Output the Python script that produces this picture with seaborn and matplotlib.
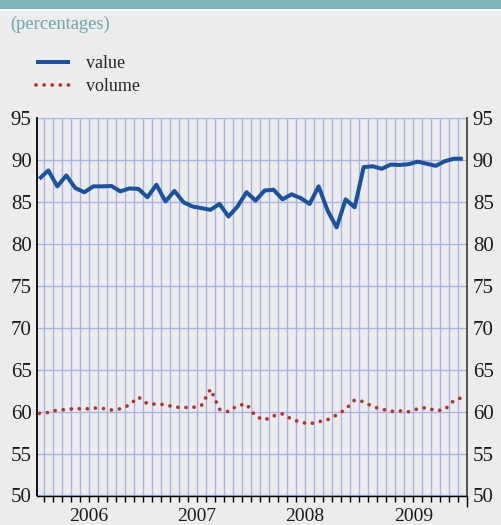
import numpy as np
import pandas as pd
import matplotlib
matplotlib.use("Agg")
import matplotlib.pyplot as plt
import matplotlib.transforms as mtransforms
from matplotlib.patches import Rectangle
import seaborn as sns

# ---- data (monthly, Jan 2006 - Dec 2009) ----
years = ["2006", "2007", "2008", "2009"]
value = [87.8, 88.8, 86.9, 88.2, 86.7, 86.2, 86.9, 86.9, 86.95, 86.3, 86.65, 86.6,
         85.6, 87.1, 85.1, 86.35, 85.0, 84.5, 84.3, 84.1, 84.8, 83.3, 84.5, 86.2,
         85.2, 86.4, 86.5, 85.35, 85.95, 85.5, 84.8, 86.9, 84.0, 82.0, 85.35, 84.4,
         89.2, 89.3, 89.0, 89.5, 89.45, 89.55, 89.85, 89.6, 89.35, 89.9, 90.2, 90.2]
volume = [59.8, 59.9, 60.2, 60.25, 60.4, 60.3, 60.45, 60.4, 60.2, 60.35, 60.8, 61.75,
          60.95, 60.9, 60.85, 60.55, 60.5, 60.5, 60.75, 62.7, 60.3, 60.0, 60.75, 60.9,
          59.45, 59.0, 59.5, 59.75, 59.1, 58.75, 58.55, 58.8, 59.05, 59.6, 60.3, 61.4,
          61.2, 60.6, 60.3, 60.05, 60.1, 60.0, 60.35, 60.5, 60.1, 60.25, 61.33, 61.73]
y_ticks = [50, 55, 60, 65, 70, 75, 80, 85, 90, 95]

month = np.arange(len(value))
df = pd.DataFrame({"month": month, "value": value, "volume": volume})

sns.set_style("white")
plt.rcParams["font.family"] = ["Liberation Serif", "DejaVu Serif"]

BG = "#ececec"
GRID = "#a9b4e4"
BLUE = "#1a52a0"
RED = "#b5332e"
TEAL = "#7fb6ba"

fig = plt.figure(figsize=(5.01, 5.25), dpi=100, facecolor=BG)
W, H = 501, 525
fig.patches.append(Rectangle((0, 1 - 8.5 / H), 1, 8.5 / H, transform=fig.transFigure,
                             facecolor=TEAL, edgecolor="none", zorder=0))
fig.patches.append(Rectangle((0, 1 - 11 / H), 1, 2.5 / H, transform=fig.transFigure,
                             facecolor="white", edgecolor="none", zorder=0))
fig.text(10 / W, 1 - 29 / H, "(percentages)", color="#6aa8ad", fontsize=13.3,
         va="baseline", ha="left")

ax = fig.add_axes([37.3 / W, 1 - 495.5 / H, 430 / W, 377 / H])
ax.set_facecolor(BG)

sns.lineplot(data=df, x="month", y="value", ax=ax, color=BLUE, lw=2.9,
             label="value", solid_joinstyle="round", solid_capstyle="butt", zorder=4)
sns.lineplot(data=df, x="month", y="volume", ax=ax, color=RED, lw=2.7,
             label="volume", linestyle=(0, (0.01, 2.15)), dash_capstyle="round", zorder=4)

ax.set_xlim(-0.22, 47.5)
ax.set_ylim(50, 95)
ax.set_xlabel("")
ax.set_ylabel("")

ax.set_xticks(np.arange(0.5, 47.0, 1.0))
ax.set_xticks([11.5, 23.5, 35.5, 47.5], minor=True)
ax.tick_params(axis="x", which="major", direction="out", length=4, width=1,
               color="black", labelbottom=False, bottom=True)
ax.tick_params(axis="x", which="minor", direction="out", length=8, width=1,
               color="black", labelbottom=False, bottom=True)
ax.set_yticks(y_ticks)
ax.tick_params(axis="y", which="major", length=0, labelsize=15, pad=4,
               labelleft=True, labelright=True, colors="#1a1a1a")

ax.grid(True, which="major", axis="both", color=GRID, lw=1.0)
ax.set_axisbelow(True)

ax.spines["top"].set_visible(False)
ax.spines["left"].set_color("black")
ax.spines["left"].set_linewidth(1.3)
ax.spines["right"].set_color("#444444")
ax.spines["right"].set_linewidth(1.3)
ax.spines["bottom"].set_color("black")
ax.spines["bottom"].set_linewidth(1.0)

trans = mtransforms.blended_transform_factory(ax.transData, ax.transAxes)
for k, yr in enumerate(years):
    ax.text(5.5 + 12 * k, -(521 - 495.5) / 377, yr, transform=trans, ha="center",
            va="baseline", fontsize=14, color="#1a1a1a")

ax.legend(loc="upper left", bbox_to_anchor=(36 / W, 1 - 55.5 / H),
          bbox_transform=fig.transFigure, frameon=False, fontsize=13,
          handlelength=1.9, handletextpad=0.85, labelspacing=0.3,
          borderpad=0, borderaxespad=0)

fig.savefig("out.png", dpi=100, facecolor=BG)
